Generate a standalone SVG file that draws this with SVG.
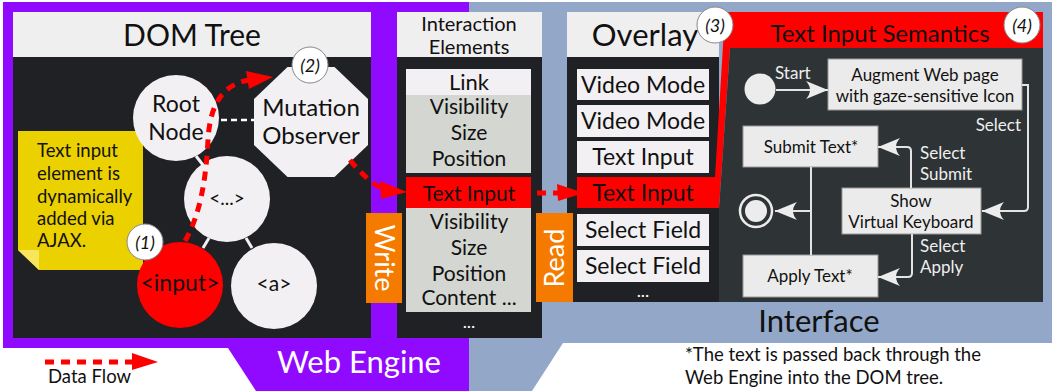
<svg xmlns="http://www.w3.org/2000/svg" width="1054" height="391" viewBox="0 0 1054 391">
<defs>
<style>
text{font-family:Lato,"Noto Sans",sans-serif;}
.hdr{fill:#f0eff0}
.dark{fill:#202125}
.item{fill:#f2f0f2}
.prop{fill:#d4d7d1}
.red{fill:#ff0000}
.node{fill:#f2f0f2}
.t{fill:#111;text-anchor:middle}
.flow{fill:none;stroke:#ff0000;stroke-width:5;stroke-dasharray:9 7}
.head{fill:#ff0000}
.badge{fill:#fff;stroke:#888;stroke-width:1}
.bt{font-style:italic;font-size:18px;fill:#111;text-anchor:middle}
.sline{fill:none;stroke:#e4e4e4;stroke-width:2}
.sbox{fill:#ebebeb;stroke:#999;stroke-width:1}
.lbl{fill:#eee;font-size:17px}
.st{fill:#111;font-size:17px;text-anchor:middle}
.tree{stroke:#f2f0f2;stroke-width:3}
.ov{font-size:23px}
.ie{font-size:21px}
.ft{font-size:18.5px;fill:#111}
</style>
<marker id="sa" viewBox="-24 -10 26 20" refX="0" refY="0" markerWidth="26" markerHeight="20" markerUnits="userSpaceOnUse" orient="auto">
<path d="M0,0 L-22,-9 Q-14,0 -22,9 Z" fill="#ececec"/>
</marker>
</defs>

<g id="backgrounds">
<polygon points="3,2 469,2 469,391 256,391 228,348 3,348" fill="#8f0aff"/>
<polygon points="469,2 1052,2 1052,343 563,343 532,391 469,391" fill="#93a8c9"/>
<text x="359" y="373" font-size="31" fill="#fff" text-anchor="middle">Web Engine</text>
<text x="819" y="332" font-size="31" fill="#111" text-anchor="middle">Interface</text>
</g>

<g id="dom-tree">
<rect x="13" y="12" width="358" height="45" class="hdr"/>
<rect x="13" y="57" width="358" height="281" class="dark"/>
<text x="192" y="46" font-size="30" class="t">DOM Tree</text>
</g>

<g id="note">
<polygon points="18,131 143,131 143,270 39,270 18,250" fill="#ecd100"/>
<polygon points="18,250 39,250 39,270" fill="#f7e55c"/>
<text x="37" y="157" class="ft">Text input</text>
<text x="37" y="180" class="ft">element is</text>
<text x="37" y="203" class="ft">dynamically</text>
<text x="37" y="225" class="ft">added via</text>
<text x="37" y="247" class="ft">AJAX.</text>
</g>

<g id="tree-edges">
<line x1="196" y1="156" x2="203" y2="165" class="tree"/>
<line x1="203" y1="248" x2="209" y2="238" class="tree"/>
<line x1="246" y1="238" x2="252" y2="248" class="tree"/>
<line x1="221" y1="120" x2="254" y2="120" stroke="#fff" stroke-width="2.5" stroke-dasharray="6 4"/>
</g>

<g id="root-node">
<circle cx="176" cy="118" r="43" class="node"/>
<text x="176" y="112" font-size="23" class="t">Root</text>
<text x="176" y="140" font-size="23" class="t">Node</text>
</g>

<g id="mutation-observer">
<polygon points="287.5,67 334.5,67 368,99 368,145 334.5,177 287.5,177 254,145 254,99" class="node"/>
<text x="311" y="116" font-size="24" class="t">Mutation</text>
<text x="311" y="144" font-size="24" class="t">Observer</text>
</g>

<g id="ellipsis-node">
<circle cx="227" cy="199" r="43" class="node"/>
<text x="227" y="205" font-size="19" class="t">&lt;...&gt;</text>
</g>

<g id="input-node">
<circle cx="180" cy="285" r="43" fill="#ff0000"/>
<text x="180" y="291" font-size="23" class="t">&lt;input&gt;</text>
</g>

<g id="a-node">
<circle cx="274" cy="286" r="43" class="node"/>
<text x="274" y="291" font-size="21" class="t">&lt;a&gt;</text>
</g>

<g id="interaction-elements">
<rect x="397" y="12" width="145" height="45" class="hdr"/>
<rect x="397" y="57" width="145" height="281" class="dark"/>
<text x="469" y="31" font-size="20" class="t">Interaction</text>
<text x="469" y="54" font-size="20" class="t">Elements</text>
<rect x="406" y="69" width="125" height="26" class="item"/>
<rect x="406" y="95" width="125" height="78" class="prop"/>
<text x="469" y="90" font-size="22" class="t">Link</text>
<text x="469" y="114" class="t ie">Visibility</text>
<text x="469" y="140" class="t ie">Size</text>
<text x="469" y="166" class="t ie">Position</text>
<rect x="406" y="177" width="125" height="31" class="red"/>
<text x="469" y="201" class="t ie">Text Input</text>
<rect x="406" y="208" width="125" height="104" class="prop"/>
<text x="469" y="229" class="t ie">Visibility</text>
<text x="469" y="255" class="t ie">Size</text>
<text x="469" y="281" class="t ie">Position</text>
<text x="469" y="305" class="t ie">Content ...</text>
<text x="469" y="328" font-size="18" fill="#fff" text-anchor="middle">...</text>
</g>

<g id="overlay">
<rect x="567" y="12" width="152" height="45" class="hdr"/>
<rect x="567" y="57" width="152" height="245" class="dark"/>
<text x="645" y="46" font-size="31" class="t">Overlay</text>
<rect x="577" y="69" width="132" height="31" class="item"/>
<text x="643" y="93" class="t ov">Video Mode</text>
<rect x="577" y="105" width="132" height="32" class="item"/>
<text x="643" y="129" class="t ov">Video Mode</text>
<rect x="577" y="141" width="132" height="32" class="item"/>
<text x="643" y="165" class="t ov">Text Input</text>
<rect x="577" y="214" width="132" height="32" class="item"/>
<text x="643" y="238" class="t ov">Select Field</text>
<rect x="577" y="250" width="132" height="32" class="item"/>
<text x="643" y="274" class="t ov">Select Field</text>
<text x="643" y="297" font-size="18" fill="#fff" text-anchor="middle">...</text>
</g>

<g id="text-input-semantics">
<polygon points="577,177 715,177 725,12 1043,12 1043,48 730,48 719,208 577,208" class="red"/>
<polygon points="730,48 1043,48 1043,302 719,302 719,208" fill="#2e3336"/>
<text x="643" y="201" class="t ov">Text Input</text>
<text x="880" y="42" font-size="24" class="t">Text Input Semantics</text>
</g>

<g id="write-label">
<rect x="366" y="213" width="36" height="90" fill="#f47b00"/>
<text transform="translate(375,258) rotate(90)" font-size="27" fill="#fff" text-anchor="middle">Write</text>
</g>

<g id="read-label">
<rect x="536" y="213" width="37" height="89" fill="#f47b00"/>
<text transform="translate(564,258) rotate(-90)" font-size="27" fill="#fff" text-anchor="middle">Read</text>
</g>

<g id="badges">
<circle cx="145" cy="242" r="18" class="badge"/>
<text x="145" y="249" class="bt">(1)</text>
<circle cx="310" cy="65" r="18" class="badge"/>
<text x="310" y="72" class="bt">(2)</text>
<circle cx="715" cy="25" r="18" class="badge"/>
<text x="715" y="32" class="bt">(3)</text>
<circle cx="1022" cy="25" r="18" class="badge"/>
<text x="1022" y="32" class="bt">(4)</text>
</g>

<g id="semantics-start">
<circle cx="760" cy="89" r="15.5" fill="#ececec"/>
<text x="775" y="79" class="lbl">Start</text>
</g>
<g id="augment">
<rect x="828" y="59" width="194" height="51" class="sbox"/>
<text x="925" y="81" class="st">Augment Web page</text>
<text x="925" y="102" class="st">with gaze-sensitive Icon</text>
</g>
<g id="submit-text">
<rect x="743" y="126" width="135" height="41" class="sbox"/>
<text x="811" y="153" class="st">Submit Text*</text>
</g>
<g id="show-keyboard">
<rect x="842" y="188" width="139" height="46" class="sbox"/>
<text x="911" y="207" class="st">Show</text>
<text x="911" y="228" class="st">Virtual Keyboard</text>
</g>
<g id="apply-text">
<rect x="743" y="255" width="135" height="42" class="sbox"/>
<text x="810" y="282" class="st">Apply Text*</text>
</g>
<g id="semantics-end">
<circle cx="756" cy="211" r="16" fill="none" stroke="#ececec" stroke-width="2.5"/>
<circle cx="756" cy="211" r="11" fill="#ececec"/>
</g>

<g id="connectors">
<path d="M185,241 C200,215 206,180 208,140 C210,105 222,84 250,80" class="flow"/>
<polygon points="246,71 273,77 249,89" class="head"/>
<path d="M350,160 Q364,178 382,189" class="flow"/>
<polygon points="380,181 407,192 381,199" class="head"/>
<path d="M537,193 L558,193" class="flow"/>
<polygon points="557,184 584,193 558,201" class="head"/>

<path d="M776,90 L828,90" class="sline" marker-end="url(#sa)"/>
<path d="M1022,85 H1028 V207 Q1028,211 1024,211 H982" class="sline" marker-end="url(#sa)"/>
<path d="M911,188 V151 Q911,147 907,147 H878" class="sline" marker-end="url(#sa)"/>
<path d="M912,234 V273 Q912,277 908,277 H878" class="sline" marker-end="url(#sa)"/>
<path d="M811,167 V255" class="sline"/>
<path d="M811,211 H775" class="sline" marker-end="url(#sa)"/>
<text x="1021" y="131" class="lbl" text-anchor="end">Select</text>
<text x="920" y="159" class="lbl">Select</text>
<text x="920" y="180" class="lbl">Submit</text>
<text x="920" y="252" class="lbl">Select</text>
<text x="920" y="273" class="lbl">Apply</text>
</g>

<g id="legend">
<path d="M45,362 L132,362" class="flow"/>
<polygon points="132,353 158,362 132,370" class="head"/>
<text x="48" y="383" class="ft">Data Flow</text>
<text x="685" y="361" class="ft">*The text is passed back through the</text>
<text x="685" y="384" class="ft">Web Engine into the DOM tree.</text>
</g>
</svg>
